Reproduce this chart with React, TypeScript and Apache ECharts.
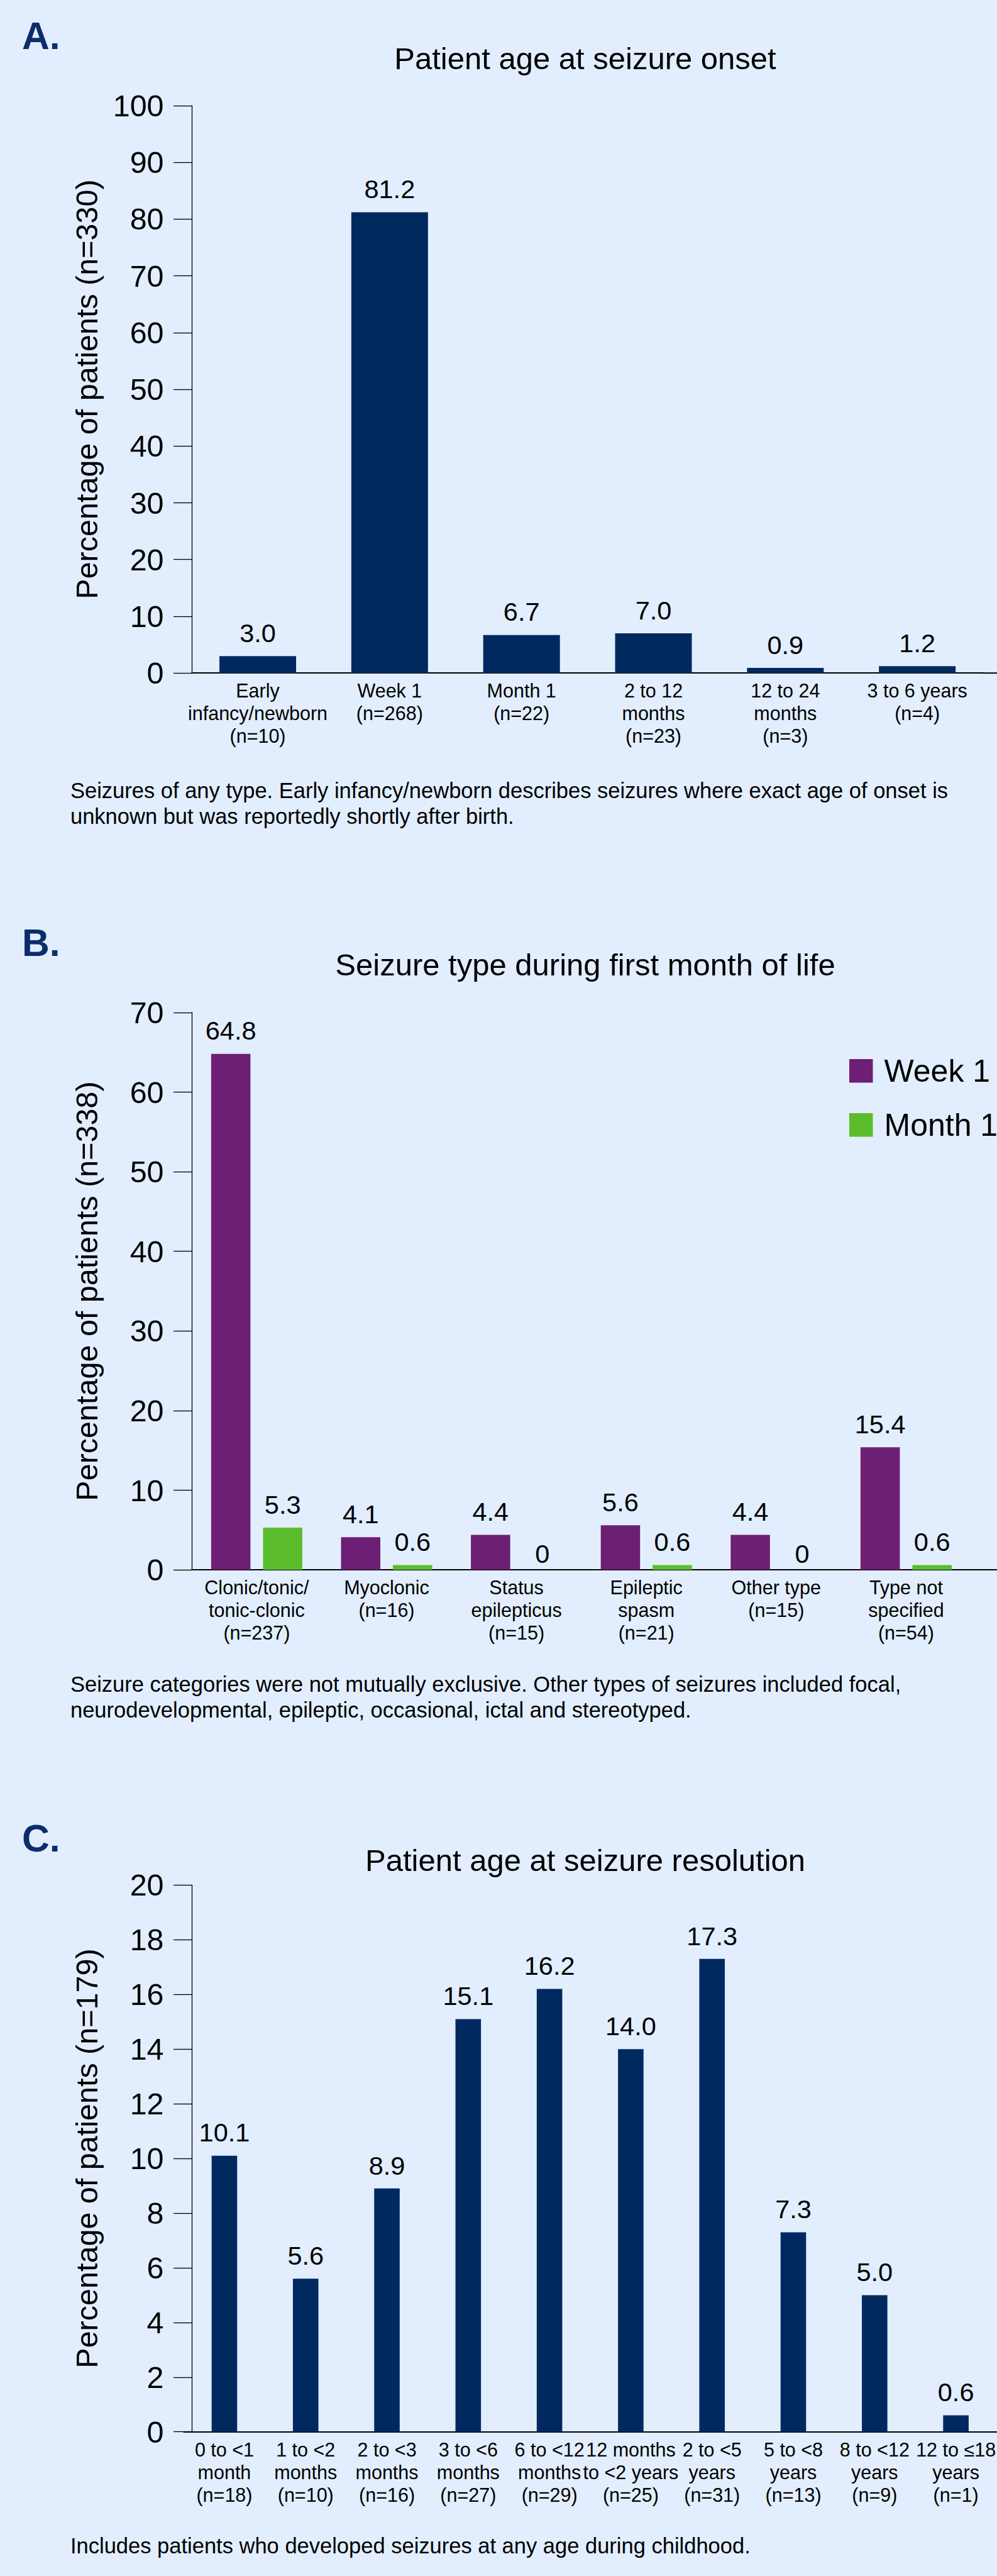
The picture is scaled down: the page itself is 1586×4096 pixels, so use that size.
import React, { useEffect, useRef } from 'react';
import * as echarts from 'echarts';

const FONT = '"Liberation Sans", Arial, Helvetica, sans-serif';
const BG = '#e2eefe';
const NAVY = '#002960';
const PURPLE = '#6c1f74';
const GREEN = '#5bbd2c';
const LETTER = '#0b2d6b';

// ---- Data ----
const onsetCategories = [
  'Early\ninfancy/newborn\n(n=10)',
  'Week 1\n(n=268)',
  'Month 1\n(n=22)',
  '2 to 12\nmonths\n(n=23)',
  '12 to 24\nmonths\n(n=3)',
  '3 to 6 years\n(n=4)',
];
const onsetValues = [3.0, 81.2, 6.7, 7.0, 0.9, 1.2];

const typeCategories = [
  'Clonic/tonic/\ntonic-clonic\n(n=237)',
  'Myoclonic\n(n=16)',
  'Status\nepilepticus\n(n=15)',
  'Epileptic\nspasm\n(n=21)',
  'Other type\n(n=15)',
  'Type not\nspecified\n(n=54)',
];
const typeWeek1 = [64.8, 4.1, 4.4, 5.6, 4.4, 15.4];
const typeMonth1 = [5.3, 0.6, 0, 0.6, 0, 0.6];

const resolutionCategories = [
  '0 to <1\nmonth\n(n=18)',
  '1 to <2\nmonths\n(n=10)',
  '2 to <3\nmonths\n(n=16)',
  '3 to <6\nmonths\n(n=27)',
  '6 to <12\nmonths\n(n=29)',
  '12 months\nto <2 years\n(n=25)',
  '2 to <5\nyears\n(n=31)',
  '5 to <8\nyears\n(n=13)',
  '8 to <12\nyears\n(n=9)',
  '12 to \u226418\nyears\n(n=1)',
];
const resolutionValues = [10.1, 5.6, 8.9, 15.1, 16.2, 14.0, 17.3, 7.3, 5.0, 0.6];

// ---- Layout (pixels) ----
const W = 1586;
const H = 4096;
const AXIS_X = 305.1;
const gridA = { left: AXIS_X, top: 167.9, width: 1259, height: 902.3 };
const gridB = { left: AXIS_X, top: 1609.9, width: 1239.6, height: 886.2 };
const gridC = { left: 292.3, top: 2997.4, width: 1315, height: 869.3 };

const fmt = (v: number) => (v === 0 ? '0' : v.toFixed(1));

function yAxisCfg(gridIndex: number, max: number, interval: number, name: string, offset = 0) {
  return {
    gridIndex,
    type: 'value',
    min: 0,
    max,
    interval,
    offset,
    axisLine: { show: true, lineStyle: { color: '#000', width: 1.3 } },
    axisTick: { show: true, length: 29, lineStyle: { color: '#000', width: 1.3 } },
    axisLabel: { fontSize: 48.5, margin: 44.5, color: '#000', fontFamily: FONT },
    splitLine: { show: false },
    name,
    nameLocation: 'middle',
    nameGap: 143,
    nameRotate: 90,
    nameTextStyle: { fontSize: 48.5, lineHeight: 48, color: '#000', fontFamily: FONT },
  };
}

function xAxisCfg(gridIndex: number, data: string[]) {
  return {
    gridIndex,
    type: 'category',
    data,
    axisLine: { show: true, lineStyle: { color: '#000', width: 2 } },
    axisTick: { show: false },
    axisLabel: {
      interval: 0,
      hideOverlap: false,
      fontSize: 30.5,
      lineHeight: 36,
      margin: 10,
      color: '#000',
      fontFamily: FONT,
    },
    splitLine: { show: false },
  };
}

const valueLabel = {
  show: true,
  position: 'top',
  distance: 16,
  fontSize: 41.5,
  lineHeight: 41.5,
  color: '#000',
  fontFamily: FONT,
  formatter: (p: any) => fmt(typeof p.value === 'number' ? p.value : Number(p.value)),
};

function textEl(text: string, x: number, y: number, size: number, opts: any = {}) {
  return {
    type: 'text',
    x,
    y,
    silent: true,
    style: {
      text,
      fontSize: size,
      fontFamily: FONT,
      fill: opts.fill || '#000',
      fontWeight: opts.bold ? 'bold' : 'normal',
      align: opts.align || 'left',
      verticalAlign: 'middle',
    },
  };
}

function hLine(x1: number, x2: number, y: number) {
  return {
    type: 'line',
    silent: true,
    shape: { x1, y1: y, x2, y2: y },
    style: { stroke: '#000', lineWidth: 2 },
  };
}

export default function App() {
  const ref = useRef<HTMLDivElement>(null);

  useEffect(() => {
    document.body.style.margin = '0';
    document.body.style.background = BG;
    if (!ref.current) return;
    const chart = echarts.init(ref.current, undefined, { renderer: 'svg', width: W, height: H });

    const monthData = typeMonth1.map((v) => (v === 0 ? { value: v, label: { distance: 4.5 } } : v));

    const option: any = {
      animation: false,
      backgroundColor: BG,
      textStyle: { fontFamily: FONT },
      grid: [
        { ...gridA, containLabel: false },
        { ...gridB, containLabel: false },
        { ...gridC, containLabel: false },
      ],
      xAxis: [
        xAxisCfg(0, onsetCategories),
        xAxisCfg(1, typeCategories),
        xAxisCfg(2, resolutionCategories),
      ],
      yAxis: [
        yAxisCfg(0, 100, 10, 'Percentage of patients (n=330)'),
        yAxisCfg(1, 70, 10, 'Percentage of patients (n=338)'),
        yAxisCfg(2, 20, 2, 'Percentage of patients (n=179)', gridC.left - AXIS_X),
      ],
      legend: {
        data: ['Week 1', 'Month 1'],
        orient: 'vertical',
        left: 1346,
        top: 1672.7,
        itemWidth: 37.5,
        itemHeight: 37.5,
        itemGap: 36,
        icon: 'rect',
        selectedMode: false,
        textStyle: { fontSize: 50, lineHeight: 37.5, color: '#000', fontFamily: FONT, padding: [0, 0, 0, 13] },
      },
      series: [
        {
          name: 'Age at onset',
          type: 'bar',
          xAxisIndex: 0,
          yAxisIndex: 0,
          data: onsetValues,
          barWidth: 122,
          itemStyle: { color: NAVY },
          label: valueLabel,
        },
        {
          name: 'Week 1',
          type: 'bar',
          xAxisIndex: 1,
          yAxisIndex: 1,
          data: typeWeek1,
          barWidth: 62.5,
          barGap: '32%',
          itemStyle: { color: PURPLE },
          label: valueLabel,
        },
        {
          name: 'Month 1',
          type: 'bar',
          xAxisIndex: 1,
          yAxisIndex: 1,
          data: monthData,
          barWidth: 62.5,
          barGap: '32%',
          itemStyle: { color: GREEN },
          label: valueLabel,
        },
        {
          name: 'Age at resolution',
          type: 'bar',
          xAxisIndex: 2,
          yAxisIndex: 2,
          data: resolutionValues,
          barWidth: 40.6,
          itemStyle: { color: NAVY },
          label: valueLabel,
        },
      ],
      graphic: [
        // panel letters
        textEl('A.', 35, 57.3, 60.6, { bold: true, fill: LETTER }),
        textEl('B.', 35, 1498.5, 60.6, { bold: true, fill: LETTER }),
        textEl('C.', 35, 2923.3, 60.6, { bold: true, fill: LETTER }),
        // titles
        textEl('Patient age at seizure onset', 931, 92.5, 49, { align: 'center' }),
        textEl('Seizure type during first month of life', 931, 1534.1, 49, { align: 'center' }),
        textEl('Patient age at seizure resolution', 931, 2958.2, 49, { align: 'center' }),
        // footnotes
        textEl('Seizures of any type. Early infancy/newborn describes seizures where exact age of onset is', 112, 1257.2, 34.5),
        textEl('unknown but was reportedly shortly after birth.', 112, 1297.8, 34.5),
        textEl('Seizure categories were not mutually exclusive. Other types of seizures included focal,', 112, 2678.2, 34.5),
        textEl('neurodevelopmental, epileptic, occasional, ictal and stereotyped.', 112, 2719, 34.5),
        textEl('Includes patients who developed seizures at any age during childhood.', 112, 4048.4, 34.5),
        // x-axis line extensions to the page edge
        hLine(gridA.left + gridA.width - 1, W, gridA.top + gridA.height),
        hLine(gridB.left + gridB.width - 1, W, gridB.top + gridB.height),
      ],
    };

    chart.setOption(option);
    return () => {
      chart.dispose();
    };
  }, []);

  return <div ref={ref} style={{ width: W, height: H, background: BG }} />;
}
